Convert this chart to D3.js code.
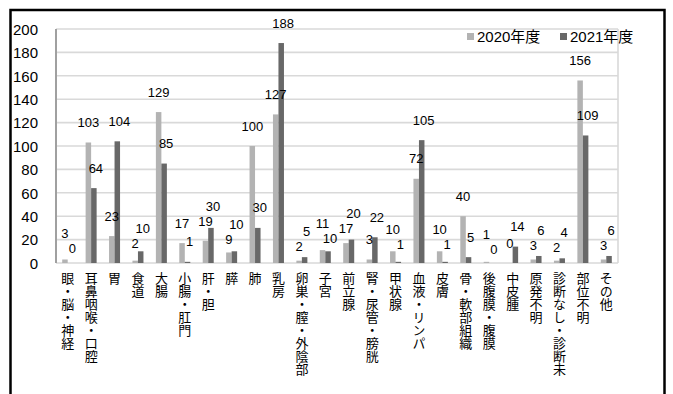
<!DOCTYPE html>
<html>
<head>
<meta charset="utf-8">
<script src="https://cdn.jsdelivr.net/npm/d3@7"></script>
<style>
  html, body { margin: 0; padding: 0; background: #fff; }
  svg { display: block; }
  .num { font-family: "Liberation Sans", Arial, "Noto Sans CJK JP", sans-serif; }
  .cat { font-family: "Noto Sans CJK JP", sans-serif; writing-mode: vertical-rl; }
</style>
</head>
<body>
<svg id="chart" width="673" height="394"></svg>
<script>
// がん部位別件数（年度比較）
const categories = [
  "眼・脳・神経", "耳鼻咽喉・口腔", "胃", "食道", "大腸", "小腸・肛門", "肝・胆", "膵",
  "肺", "乳房", "卵巣・膣・外陰部", "子宮", "前立腺", "腎・尿管・膀胱", "甲状腺",
  "血液・リンパ", "皮膚", "骨・軟部組織", "後腹膜・腹膜", "中皮腫", "原発不明",
  "診断なし・診断未", "部位不明", "その他"
];
const seriesNames = ["2020年度", "2021年度"];
const values2020 = [3, 103, 23, 2, 129, 17, 19, 9, 100, 127, 2, 11, 17, 3, 10, 72, 10, 40, 1, 0, 3, 2, 156, 3];
const values2021 = [0, 64, 104, 10, 85, 1, 30, 10, 30, 188, 5, 10, 20, 22, 1, 105, 1, 5, 0, 14, 6, 4, 109, 6];
const yTicks = [0, 20, 40, 60, 80, 100, 120, 140, 160, 180, 200];
const seriesColors = ["#b3b3b3", "#686868"];

const svg = d3.select("#chart");

// outer chart frame
svg.append("rect")
  .attr("x", 10.5).attr("y", 10).attr("width", 654).attr("height", 420)
  .attr("fill", "none").attr("stroke", "#000").attr("stroke-width", 2.5);

const plot = { left: 56, right: 618, top: 29, bottom: 263 };

const x0 = d3.scaleBand().domain(categories).range([plot.left, plot.right]).padding(0);
const groupW = 11;
const x1 = d3.scaleBand().domain(seriesNames)
  .range([(x0.bandwidth() - groupW) / 2, (x0.bandwidth() + groupW) / 2]).padding(0);
const y = d3.scaleLinear().domain([0, 200]).range([plot.bottom, plot.top]);

// horizontal gridlines
svg.append("g").selectAll("line").data(yTicks).join("line")
  .attr("x1", plot.left).attr("x2", plot.right)
  .attr("y1", d => y(d)).attr("y2", d => y(d))
  .attr("stroke", "#d9d9d9").attr("stroke-width", 1.6);

// right edge of plot area
svg.append("line")
  .attr("x1", plot.right).attr("x2", plot.right)
  .attr("y1", y(200)).attr("y2", y(0))
  .attr("stroke", "#d9d9d9").attr("stroke-width", 1.6);

// y axis
const yAxis = d3.axisLeft(y).tickValues(yTicks).tickSize(0).tickPadding(0);
const yg = svg.append("g").attr("transform", `translate(38,0)`).call(yAxis);
yg.select(".domain").remove();
yg.selectAll("text").attr("class", "num").attr("font-size", 15).attr("fill", "#000")
  .attr("x", 0).attr("dy", "0.35em").attr("text-anchor", "end");

svg.append("line")
  .attr("x1", plot.left).attr("x2", plot.left)
  .attr("y1", y(200)).attr("y2", y(0))
  .attr("stroke", "#a0a0a0").attr("stroke-width", 2);

// bars
const rows = categories.map((c, i) => ({ cat: c, vals: [values2020[i], values2021[i]] }));
const groups = svg.append("g").selectAll("g").data(rows).join("g")
  .attr("transform", d => `translate(${x0(d.cat)},0)`);
groups.selectAll("rect").data(d => d.vals.map((v, k) => ({ key: seriesNames[k], v, k })))
  .join("rect")
  .attr("x", d => x1(d.key))
  .attr("y", d => y(d.v))
  .attr("width", x1.bandwidth())
  .attr("height", d => y(0) - y(d.v))
  .attr("fill", d => seriesColors[d.k]);

// value labels, placed above bars; crowded pairs are split vertically,
// the larger value going on top
const labelFont = 13, charW = 7.2, lift = 20;
const labels = [];
rows.forEach(r => {
  const pair = r.vals.map((v, k) => ({
    v, k,
    x: x0(r.cat) + x1(seriesNames[k]) + x1.bandwidth() / 2 + (k === 1 ? 2 : 0),
    cy: y(v) - lift,
    w: String(v).length * charW
  }));
  const [a, b] = pair;
  const overlapX = Math.abs(a.x - b.x) < (a.w + b.w) / 2 + 1.5;
  if (overlapX && Math.abs(a.cy - b.cy) < 14) {
    const mid = (a.cy + b.cy) / 2;
    const [hi, lo] = a.v > b.v ? [a, b] : [b, a];
    hi.cy = mid - 7.5;
    lo.cy = mid + 7.5;
  }
  labels.push(a, b);
});
svg.append("g").selectAll("text").data(labels).join("text")
  .attr("class", "num")
  .attr("x", d => d.x).attr("y", d => d.cy)
  .attr("dy", "0.35em")
  .attr("text-anchor", "middle")
  .attr("font-size", labelFont)
  .attr("fill", "#000")
  .text(d => d.v);

// category labels, written vertically
svg.append("g").selectAll("text").data(categories).join("text")
  .attr("class", "cat")
  .attr("x", d => x0(d) + x0.bandwidth() / 2)
  .attr("y", 272)
  .attr("font-size", 13)
  .attr("fill", "#000")
  .text(d => d);

// legend
const legend = svg.append("g");
const legendX = [467, 560];
seriesNames.forEach((name, k) => {
  legend.append("rect")
    .attr("x", legendX[k]).attr("y", 33).attr("width", 7).attr("height", 7)
    .attr("fill", seriesColors[k]);
  legend.append("text")
    .attr("class", "num")
    .attr("x", legendX[k] + 10).attr("y", 37)
    .attr("dy", "0.35em")
    .attr("font-size", 15)
    .attr("fill", "#000")
    .text(name);
});
</script>
</body>
</html>
